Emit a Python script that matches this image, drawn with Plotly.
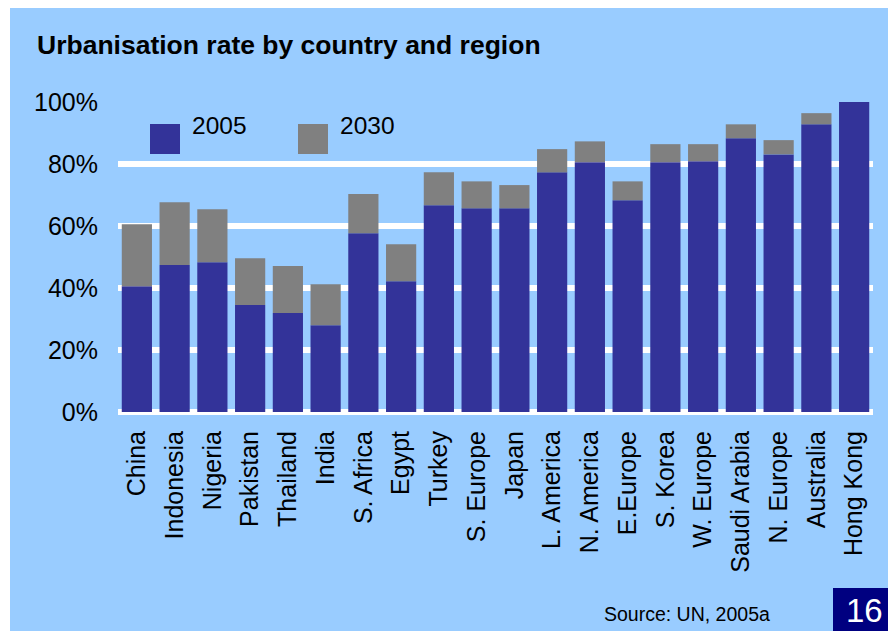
import plotly.graph_objects as go

categories = ["China", "Indonesia", "Nigeria", "Pakistan", "Thailand", "India",
              "S. Africa", "Egypt", "Turkey", "S. Europe", "Japan", "L. America",
              "N. America", "E.Europe", "S. Korea", "W. Europe", "Saudi Arabia",
              "N. Europe", "Australia", "Hong Kong"]
urban_2005 = [40.6, 47.4, 48.3, 34.5, 31.9, 28.0, 57.7, 42.2, 66.7, 65.7,
              65.7, 77.3, 80.6, 68.3, 80.6, 80.9, 88.3, 83.1, 92.8, 100.0]
urban_2030 = [60.6, 67.7, 65.4, 49.6, 47.1, 41.2, 70.3, 54.1, 77.3, 74.4,
              73.2, 84.8, 87.3, 74.4, 86.4, 86.4, 92.8, 87.7, 96.4, 100.0]
series_names = ["2005", "2030"]
tick_vals = [0, 20, 40, 60, 80, 100]
tick_text = ["0%", "20%", "40%", "60%", "80%", "100%"]

W, H = 888, 623
L, R, T, B = 110, 23, 94, 219
PW, PH = W - L - R, H - T - B

def px(x):
    return (x - L) / PW

def py(y):
    return (H - B - y) / PH

BLUE = "#333399"
GREY = "#808080"
BG = "#99CCFF"
FONT = "Liberation Sans, Arial, sans-serif"

increment = [b - a for a, b in zip(urban_2005, urban_2030)]

fig = go.Figure()
fig.add_trace(go.Bar(x=categories, y=urban_2005, name=series_names[0],
                     marker=dict(color=BLUE, line=dict(width=0))))
fig.add_trace(go.Bar(x=categories, y=increment, base=urban_2005, name=series_names[1],
                     marker=dict(color=GREY, line=dict(width=0))))

fig.update_layout(
    width=W, height=H,
    margin=dict(l=L, r=R, t=T, b=B),
    barmode="overlay",
    bargap=0.2,
    showlegend=False,
    paper_bgcolor=BG,
    plot_bgcolor=BG,
    font=dict(family=FONT, size=25, color="black"),
    xaxis=dict(showgrid=False, showline=False, ticks="", tickangle=-90,
               tickfont=dict(size=25), ticklabelstandoff=13),
    yaxis=dict(range=[0, 100], tickvals=tick_vals, ticktext=tick_text,
               showgrid=True, gridcolor="white", gridwidth=6,
               zeroline=True, zerolinecolor="white", zerolinewidth=6,
               showline=False, ticks="", tickfont=dict(size=25),
               ticklabelstandoff=19),
)

shapes = [
    # thin white strip on the left edge
    dict(type="rect", xref="paper", yref="paper", x0=px(0), x1=px(2), y0=py(0), y1=py(H),
         fillcolor="white", line=dict(width=0), layer="above"),
    # page number box
    dict(type="rect", xref="paper", yref="paper", x0=px(825), x1=px(W), y0=py(580), y1=py(H),
         fillcolor="#000080", line=dict(width=0), layer="above"),
    # legend swatches
    dict(type="rect", xref="paper", yref="paper", x0=px(142), x1=px(172), y0=py(116), y1=py(146),
         fillcolor=BLUE, line=dict(width=0), layer="above"),
    dict(type="rect", xref="paper", yref="paper", x0=px(290), x1=px(320), y0=py(116), y1=py(146),
         fillcolor=GREY, line=dict(width=0), layer="above"),
]

annotations = [
    dict(text="<b>Urbanisation rate by country and region</b>", xref="paper", yref="paper",
         x=px(27), y=py(37), xanchor="left", yanchor="middle", showarrow=False,
         font=dict(size=26.5, family=FONT, color="black")),
    dict(text=series_names[0], xref="paper", yref="paper", x=px(182), y=py(117),
         xanchor="left", yanchor="middle", showarrow=False, font=dict(size=24.5)),
    dict(text=series_names[1], xref="paper", yref="paper", x=px(330), y=py(117),
         xanchor="left", yanchor="middle", showarrow=False, font=dict(size=24.5)),
    dict(text="Source: UN, 2005a", xref="paper", yref="paper", x=px(764), y=py(606),
         xanchor="right", yanchor="middle", showarrow=False, font=dict(size=19.5)),
    dict(text="16", xref="paper", yref="paper", x=px(856.5), y=py(602),
         xanchor="center", yanchor="middle", showarrow=False,
         font=dict(size=33, color="white")),
]

fig.update_layout(shapes=shapes, annotations=annotations)
fig.write_html("out.html")
